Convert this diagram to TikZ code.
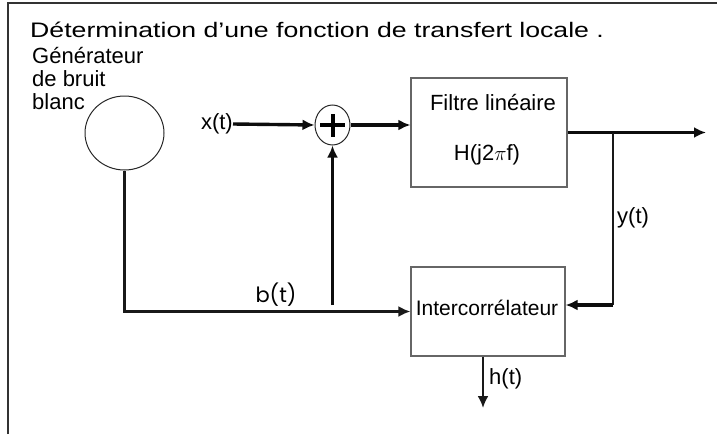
\documentclass[tikz,border=0pt]{standalone}
\usepackage{fontspec}
\setmainfont{Liberation Sans}
\newfontfamily\titlefont[FakeStretch=1.27]{Liberation Sans}
\newfontfamily\geofont{Poppins}
\usetikzlibrary{arrows.meta,shapes.geometric}
\begin{document}
\begin{tikzpicture}[x=1pt,y=-1pt,
  lbl/.style={font=\fontsize{22}{24}\selectfont, inner sep=0pt},
  thinln/.style={line width=2.2pt, draw=black!90},
  thickln/.style={line width=3.4pt, draw=black!95},
  blk/.style={draw=black!60, line width=1.2pt, inner sep=0pt},
  arr/.style={-{Latex[length=12pt,width=11pt]}},
]
\useasboundingbox (0,0) rectangle (719,434);
% frame
\draw[line width=2pt, draw=black!80] (8,434) -- (8,3) -- (717,3);
% title
\node[anchor=base west, inner sep=0pt, font=\titlefont\fontsize{21}{23}\selectfont] (title) at (30,37) {Détermination d’une fonction de transfert locale .};
% generator
\node[lbl, anchor=base west] (g1) at (32,63) {Générateur};
\node[lbl, anchor=base west] (g2) at (32,86) {de bruit};
\node[lbl, anchor=base west] (g3) at (32,109) {blanc};
\node[ellipse, draw=black!85, line width=1pt, minimum width=79pt, minimum height=74pt, inner sep=0pt] (gen) at (124.5,133) {};
% summing junction
\node[ellipse, draw=black!85, line width=1pt, minimum width=35pt, minimum height=40pt, inner sep=0pt] (sum) at (332.5,125) {};
\draw[line width=4pt] ([xshift=-12.5pt]sum.center) -- ([xshift=12.5pt]sum.center);
\draw[line width=4pt] ([yshift=-11.5pt]sum.center) -- ([yshift=11.5pt]sum.center);
% filter
\node[blk, minimum width=156pt, minimum height=109pt] (filt) at (489,132.5) {};
\node[lbl, anchor=base] (ft1) at (493,110) {Filtre linéaire};
\node[lbl, anchor=base] (ft2) at (487,160) {H(j2$\pi$f)};
% intercorrelator
\node[blk, minimum width=154pt, minimum height=89pt] (ic) at (488,311.5) {};
\node[anchor=base, inner sep=0pt, font=\fontsize{21}{23}\selectfont] (ict) at (487,315) {Intercorrélateur};
% x(t)
\node[lbl, anchor=east] (xin) at (233,124) {x(t)};
\draw[thickln, arr] (xin.east) -- (sum.west);
\draw[thickln, arr] (sum.east) -- (sum.east -| filt.west);
% output
\coordinate (out) at (706,132.5);
\draw[thickln, arr] (filt.east) -- (out);
\coordinate (br) at (613,132.5);
\coordinate (yc) at (613,305);
\draw[thinln] (br) -- (yc);
\draw[thickln, arr] (yc) -- (yc -| ic.east);
\node[lbl, anchor=west] (ylab) at (617,218) {y(t)};
% noise path
\draw[thinln, arr] (gen.south) |- (ic.west);
\coordinate (bj) at (332.5,305);
\draw[thickln, arr] (bj) -- (sum.south);
\node[font=\geofont\fontsize{21}{23}\selectfont, anchor=base, inner sep=0pt] (blab) at (276,302) {b(t)};
% h(t)
\coordinate (hend) at (483,408);
\draw[thinln, arr] (ic.south -| hend) -- (hend);
\node[lbl, anchor=west] (hlab) at (489,379) {h(t)};
\end{tikzpicture}
\end{document}
